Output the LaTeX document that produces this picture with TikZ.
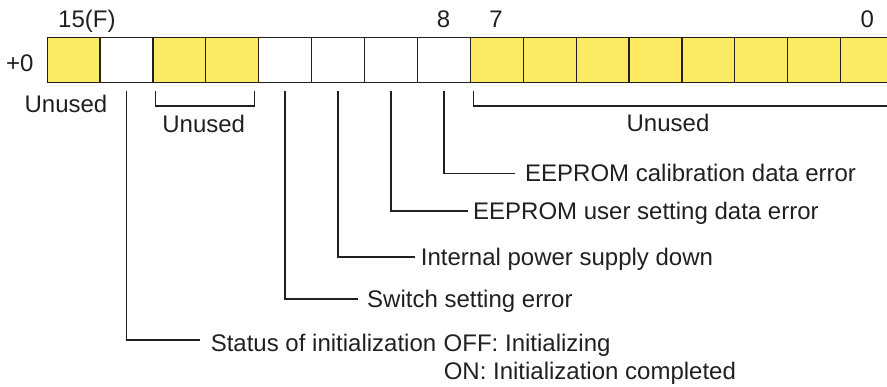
\documentclass[tikz,border=0pt]{standalone}
\usepackage{fontspec}
\setmainfont{Liberation Sans}
\definecolor{cellyellow}{RGB}{253,234,99}
\definecolor{ink}{RGB}{35,31,32}
\begin{document}
\begin{tikzpicture}[x=1pt,y=-1pt,
  cellbox/.style={rectangle, draw=ink, line width=1.2pt, minimum width=52.9pt,
    minimum height=44.7pt, inner sep=0pt, anchor=north west},
  txt/.style={text=ink, font=\fontsize{24}{28}\selectfont, inner sep=0pt},
  lbl/.style={txt, text height=17pt, text depth=0pt, anchor=west},
  conn/.style={draw=ink, line width=1.4pt}]
\useasboundingbox (0,0) rectangle (887,387);
\clip (0,0) rectangle (887,387);
% register cells
\foreach \b/\f [count=\i from 0] in {15/cellyellow,14/white,13/cellyellow,12/cellyellow,
  11/white,10/white,9/white,8/white,7/cellyellow,6/cellyellow,5/cellyellow,4/cellyellow,
  3/cellyellow,2/cellyellow,1/cellyellow,0/cellyellow}
  \node[cellbox, fill=\f] (c\b) at ({46.5+52.9*\i},37.3) {};
% bit numbers and offset
\node[txt, anchor=base west] (n15) at (58,27.5) {15(F)};
\node[txt, anchor=base] (n8) at (443.5,27.5) {8};
\node[txt, anchor=base] (n7) at (496,27.5) {7};
\node[txt, anchor=base] (n0) at (867.3,27.5) {0};
\node[txt, anchor=base west] (off) at (6,71.7) {+0};
% unused labels and brackets
\node[txt, anchor=base] (u15) at (66,112.7) {Unused};
\node[txt, anchor=base] (u13) at (203.7,132.7) {Unused};
\node[txt, anchor=base] (u7) at (668,131.7) {Unused};
\draw[conn] ([xshift=3pt,yshift=-8pt]c13.south west) -- ([xshift=3pt,yshift=-23pt]c13.south west)
  -- ([xshift=-5pt,yshift=-23pt]c12.south east) -- ([xshift=-5pt,yshift=-8pt]c12.south east);
\draw[conn] ([xshift=3.6pt,yshift=-8pt]c7.south west) -- ([xshift=3.6pt,yshift=-23pt]c7.south west)
  -- ([xshift=30pt,yshift=-23pt]c0.south east);
% status labels
\node[lbl] (l8) at (525,173.5) {EEPROM calibration data error};
\node[lbl] (l9) at (473,211) {EEPROM user setting data error};
\node[lbl] (l10) at (420.7,257) {Internal power supply down};
\node[lbl] (l11) at (367,299) {Switch setting error};
\node[txt, anchor=base west] (l14) at (210.6,351.5)
  {\begin{tabular}[t]{@{}l@{}l@{}}\makebox[233pt][l]{Status of initialization}&OFF: Initializing\\
   &ON: Initialization completed\end{tabular}};
% connectors
\draw[conn] ([yshift=-8pt]c8.south) |- ([xshift=-10pt]l8.west);
\draw[conn] ([yshift=-8pt]c9.south) |- ([xshift=-5pt]l9.west);
\draw[conn] ([yshift=-8pt]c10.south) |- ([xshift=-5.7pt]l10.west);
\draw[conn] ([yshift=-8pt]c11.south) |- ([xshift=-9pt]l11.west);
\draw[conn] ([yshift=-8pt]c14.south) |- ([xshift=-10.6pt,yshift=11.5pt]l14.base west);
\end{tikzpicture}
\end{document}
